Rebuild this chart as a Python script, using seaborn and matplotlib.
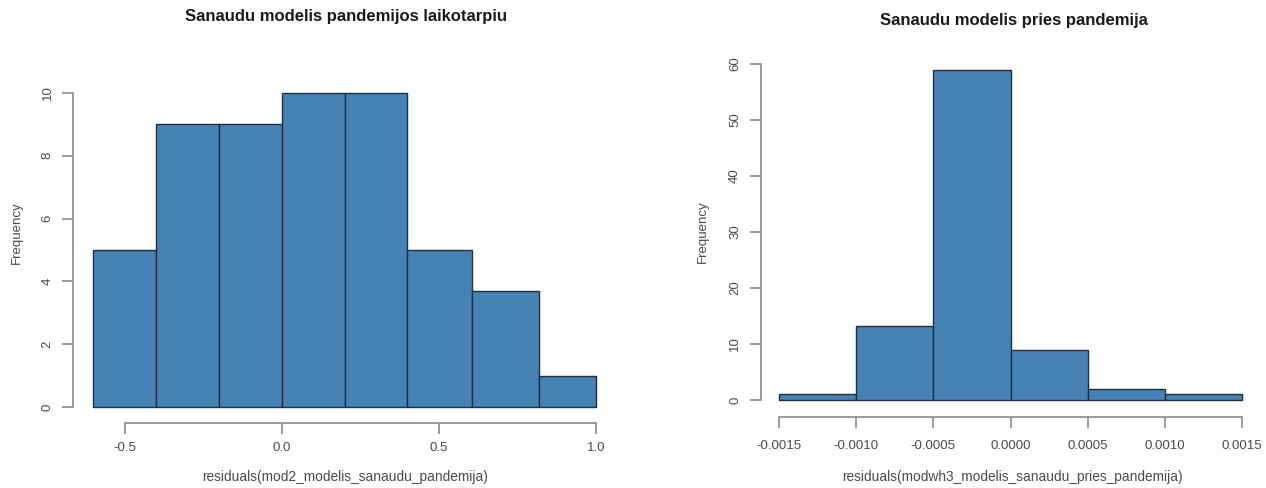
import matplotlib
matplotlib.use("Agg")
import matplotlib.pyplot as plt
import seaborn as sns

# Residual histogram during the pandemic
left_edges = [-0.6, -0.4, -0.2, 0.0, 0.2, 0.4, 0.605, 0.818, 1.0]
left_counts = [5, 9, 9, 10, 10, 5, 3.7, 1]
left_xticks = [-0.5, 0.0, 0.5, 1.0]
left_xticklabels = ["-0.5", "0.0", "0.5", "1.0"]
left_yticks = [0, 2, 4, 6, 8, 10]

# Residual histogram before the pandemic
right_edges = [-0.0015, -0.0010, -0.0005, 0.0, 0.0005, 0.0010, 0.0015]
right_counts = [1, 13.3, 59, 9, 2, 1]
right_xticks = [-0.0015, -0.0010, -0.0005, 0.0, 0.0005, 0.0010, 0.0015]
right_xticklabels = ["-0.0015", "-0.0010", "-0.0005", "0.0000", "0.0005", "0.0010", "0.0015"]
right_yticks = [0, 10, 20, 30, 40, 50, 60]

titles = ["Sanaudu modelis pandemijos laikotarpiu", "Sanaudu modelis pries pandemija"]
xlabels = ["residuals(mod2_modelis_sanaudu_pandemija)",
           "residuals(modwh3_modelis_sanaudu_pries_pandemija)"]

sns.set_style("white")
plt.rcParams["font.family"] = ["Liberation Sans", "DejaVu Sans"]

W, H = 1266, 488
fig = plt.figure(figsize=(W / 100, H / 100), dpi=100)

def px_axes(x0, x1, y0, y1):
    return fig.add_axes([x0 / W, 1 - y1 / H, (x1 - x0) / W, (y1 - y0) / H])

def px_text(x, y, s, **kw):
    return fig.text(x / W, 1 - y / H, s, ha="center", va="center", **kw)

ax1 = px_axes(73, 616, 80.4, 419.6)
ax2 = px_axes(760.5, 1260.5, 56.4, 413.2)

axis_col = "#8a8a8a"
text_col = "#4a4a4a"
bar_col = "#4682B4"
edge_col = "#1f2f3d"

panels = [
    (ax1, left_edges, left_counts, left_xticks, left_xticklabels, left_yticks, 10, 6),
    (ax2, right_edges, right_counts, right_xticks, right_xticklabels, right_yticks, 59, 9),
]

# pixel positions of the titles, x labels and y labels
title_pos = [(346, 17), (1014, 20)]
xlabel_pos = [(345, 477), (1012, 477)]
ylabel_pos = [(17, 233), (703, 232)]

for i, (ax, edges, counts, xt, xtl, yt, ytop, xpad) in enumerate(panels):
    centers = [(a + b) / 2 for a, b in zip(edges[:-1], edges[1:])]
    sns.histplot(x=centers, weights=counts, bins=edges, ax=ax,
                 color=bar_col, edgecolor=edge_col, linewidth=1.0, alpha=1.0)
    lo, hi = edges[0], edges[-1]
    pad = (hi - lo) * 0.04
    ax.set_xlim(lo - pad, hi + pad)
    ax.set_ylim(-0.04 * ytop, ytop * 1.04)

    for s in ["top", "right"]:
        ax.spines[s].set_visible(False)
    ax.spines["left"].set_bounds(yt[0], yt[-1])
    ax.spines["bottom"].set_bounds(xt[0], xt[-1])
    ax.spines["bottom"].set_position(("axes", -0.01))
    for s in ["left", "bottom"]:
        ax.spines[s].set_color(axis_col)
        ax.spines[s].set_linewidth(1.2)

    ax.set_xticks(xt)
    ax.set_xticklabels(xtl)
    ax.set_yticks(yt)
    ax.set_yticklabels([str(v) for v in yt], rotation=90, va="center")
    ax.tick_params(axis="both", colors=axis_col, labelcolor=text_col,
                   length=8, width=1.2, labelsize=9.5,
                   bottom=True, left=True)
    ax.tick_params(axis="x", pad=xpad)
    ax.tick_params(axis="y", pad=6)
    ax.set_xlabel("")
    ax.set_ylabel("")

    px_text(*title_pos[i], titles[i], fontsize=12, fontweight="bold", color="#1a1a1a")
    px_text(*xlabel_pos[i], xlabels[i], fontsize=9.9, color=text_col)
    px_text(*ylabel_pos[i], "Frequency", fontsize=9.5, color=text_col, rotation=90)

fig.savefig("out.png", dpi=100, facecolor="white")
